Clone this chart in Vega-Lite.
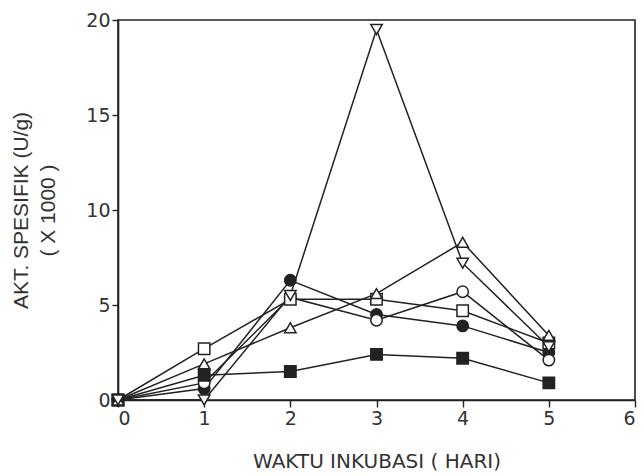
{
  "$schema": "https://vega.github.io/schema/vega-lite/v6.json",
  "autosize": {"type": "none"},
  "width": 517,
  "height": 380,
  "padding": {"left": 118, "top": 20, "right": 9, "bottom": 76},
  "background": "white",
  "config": {
    "view": {"stroke": "#222", "strokeWidth": 1.6},
    "axis": {"grid": false, "domainColor": "#222", "tickColor": "#222", "labelColor": "#333", "titleColor": "#333", "labelFont": "DejaVu Sans", "titleFont": "DejaVu Sans", "labelFontSize": 19, "titleFontSize": 20, "titleFontWeight": "normal", "domainWidth": 1.6, "tickWidth": 1.4}
  },
  "data": {"values": [
    {"s": "A", "x": 0, "y": 0}, {"s": "A", "x": 1, "y": 0.6}, {"s": "A", "x": 2, "y": 6.3}, {"s": "A", "x": 3, "y": 4.5}, {"s": "A", "x": 4, "y": 3.9}, {"s": "A", "x": 5, "y": 2.5},
    {"s": "B", "x": 0, "y": 0}, {"s": "B", "x": 1, "y": 0.9}, {"s": "B", "x": 2, "y": 5.4}, {"s": "B", "x": 3, "y": 4.2}, {"s": "B", "x": 4, "y": 5.7}, {"s": "B", "x": 5, "y": 2.1},
    {"s": "C", "x": 0, "y": 0}, {"s": "C", "x": 1, "y": 2.7}, {"s": "C", "x": 2, "y": 5.3}, {"s": "C", "x": 3, "y": 5.3}, {"s": "C", "x": 4, "y": 4.7}, {"s": "C", "x": 5, "y": 3.0},
    {"s": "D", "x": 0, "y": 0}, {"s": "D", "x": 1, "y": 1.3}, {"s": "D", "x": 2, "y": 1.5}, {"s": "D", "x": 3, "y": 2.4}, {"s": "D", "x": 4, "y": 2.2}, {"s": "D", "x": 5, "y": 0.9},
    {"s": "E", "x": 0, "y": 0}, {"s": "E", "x": 1, "y": 1.9}, {"s": "E", "x": 2, "y": 3.8}, {"s": "E", "x": 3, "y": 5.6}, {"s": "E", "x": 4, "y": 8.3}, {"s": "E", "x": 5, "y": 3.4},
    {"s": "F", "x": 0, "y": 0}, {"s": "F", "x": 1, "y": 0.0}, {"s": "F", "x": 2, "y": 5.5}, {"s": "F", "x": 3, "y": 19.5}, {"s": "F", "x": 4, "y": 7.2}, {"s": "F", "x": 5, "y": 2.8}
  ]},
  "encoding": {
    "x": {"field": "x", "type": "quantitative", "scale": {"domain": [0, 6]}, "axis": {"values": [0, 1, 2, 3, 4, 5, 6], "tickSize": 7, "labelPadding": 2, "title": "WAKTU INKUBASI ( HARI)", "titlePadding": 23}},
    "y": {"field": "y", "type": "quantitative", "scale": {"domain": [0, 20]}, "axis": {"values": [0, 5, 10, 15, 20], "tickSize": 6, "labelPadding": 2, "title": ["AKT. SPESIFIK (U/g)", "( X 1000  )"], "titleFont": "Liberation Sans", "titleFontSize": 21, "titleLineHeight": 27, "titlePadding": 27}}
  },
  "layer": [
    {"mark": {"type": "line", "color": "#222", "strokeWidth": 1.5}, "encoding": {"detail": {"field": "s"}}},
    {"mark": {"type": "point", "size": 130, "strokeWidth": 1.5, "opacity": 1, "stroke": "#222"},
     "encoding": {
       "shape": {"field": "s", "type": "nominal", "legend": null, "scale": {"domain": ["A", "B", "C", "D", "E", "F"], "range": ["circle", "circle", "square", "square", "triangle-up", "triangle-down"]}},
       "fill": {"field": "s", "type": "nominal", "legend": null, "scale": {"domain": ["A", "B", "C", "D", "E", "F"], "range": ["#222", "white", "white", "#222", "white", "white"]}}
     }}
  ]
}
